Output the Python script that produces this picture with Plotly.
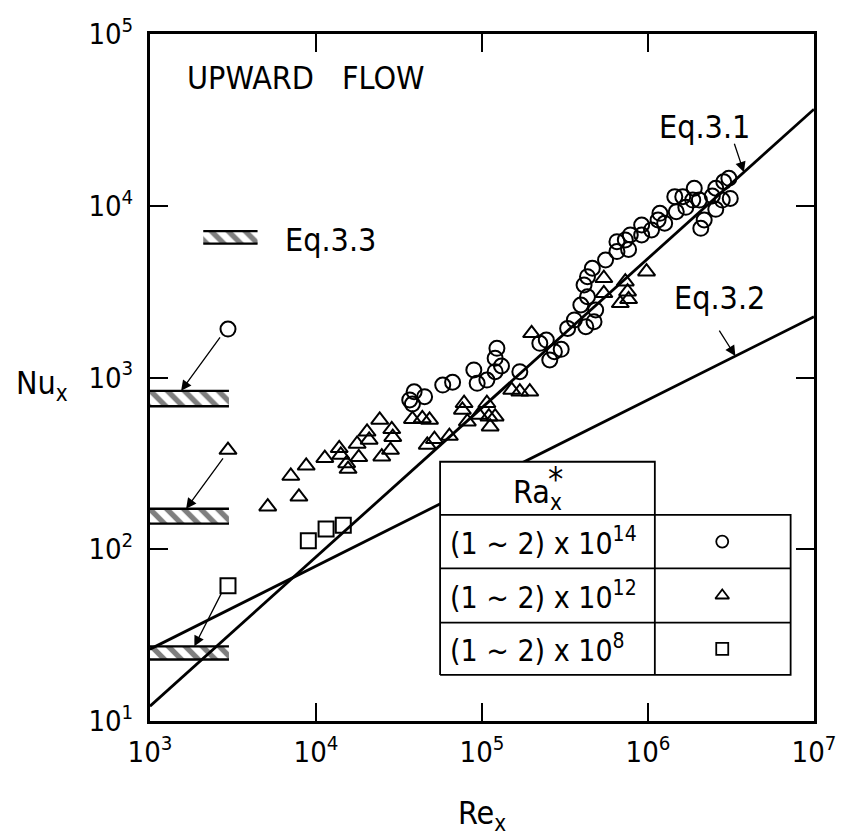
import math
import plotly.graph_objects as go

FONT = "Liberation Sans Narrow, DejaVu Sans Condensed, Arial Narrow, Liberation Sans, Arial, sans-serif"

# ---- measured data: Re_x vs Nu_x, grouped by Ra*_x ----
re_ra14 = [2.95e3,
           3.90e4, 3.67e4, 4.51e4, 3.81e4, 5.80e4, 6.65e4, 8.93e4, 9.35e4, 1.07e5, 1.20e5,
           1.23e5, 1.20e5, 1.31e5, 1.69e5, 2.23e5, 2.44e5, 2.56e5, 2.73e5, 3.00e5, 3.28e5,
           3.60e5, 3.94e5, 4.22e5, 4.32e5, 4.12e5, 4.32e5, 4.62e5, 4.84e5, 4.73e5, 5.55e5,
           6.50e5, 6.50e5, 7.30e5, 7.64e5, 7.82e5, 9.16e5, 9.16e5, 1.05e6, 1.15e6, 1.18e6,
           1.26e6, 1.45e6, 1.48e6, 1.62e6, 1.69e6, 1.86e6, 1.90e6, 2.04e6, 2.18e6, 2.08e6,
           2.44e6, 2.56e6, 2.56e6, 2.86e6, 3.07e6, 2.80e6, 3.13e6]
nu_ra14 = [1915,
           826, 740, 773, 701, 904, 938, 1107, 925, 966, 1081,
           1479, 1294, 1167, 1081, 1581, 1652, 1265, 1413, 1459, 1932,
           2163, 2644, 1977, 2953, 3460, 3865, 4325, 2472, 2113, 4831,
           6180, 5407, 6324, 5571, 6761, 7727, 6761, 7228, 8262, 9036,
           7907, 11300, 9230, 11300, 9790, 10790, 12640, 10790, 8262, 7390,
           11400, 12640, 9530, 13800, 14450, 10790, 11030]

re_ra12 = [2.95e3,
           5.12e3, 7.89e3, 7.05e3, 8.73e3, 1.13e4, 1.38e4, 1.41e4, 1.53e4, 1.56e4, 1.77e4,
           1.81e4, 2.03e4, 2.09e4, 2.42e4, 2.49e4, 2.81e4, 2.86e4, 2.90e4, 3.81e4, 4.37e4,
           4.68e4, 4.83e4, 5.17e4, 6.36e4, 7.80e4, 7.62e4, 8.16e4, 9.57e4, 1.07e5, 1.10e5,
           1.20e5, 1.12e5, 1.51e5, 1.69e5, 1.94e5, 1.99e5, 5.42e5, 5.42e5, 7.30e5, 7.53e5,
           6.81e5, 7.64e5, 9.80e5]
nu_ra12 = [378,
           177, 202, 267, 306, 339, 387, 354, 316, 293, 410,
           343, 483, 433, 566, 346, 378, 499, 449, 572, 578,
           405, 566, 437, 456, 708, 647, 553, 605, 708, 591,
           591, 517, 845, 826, 826, 1807, 3783, 3090, 3614, 3162,
           2704, 2851, 4130]

re_ra8 = [2.95e3, 8.99e3, 1.15e4, 1.46e4]
nu_ra8 = [61.4, 112, 131, 138]

# ---- correlations ----
eq31_re = [1e3, 1e7]
eq31_nu = [12.2, 36500]
eq32_re = [1e3, 1e7]
eq32_nu = [26.2, 2260]

# Eq.3.3 bands (laminar limit) for each Ra*_x group: 1e14, 1e12, 1e8
eq33_re = [1e3, 2.99e3]
eq33_nu_lo = [680, 141, 22.8]
eq33_nu_hi = [836, 172, 27.2]
# where the arrows from the Re = 3e3 points meet each band
eq33_arrow_re = [1540, 1650, 1850]

table_rows = ["(1 ~ 2) x 10<sup>14</sup>", "(1 ~ 2) x 10<sup>12</sup>", "(1 ~ 2) x 10<sup>8</sup>"]
row_symbols = ["circle-open", "triangle-up-open", "square-open"]

x_tickvals = [1e3, 1e4, 1e5, 1e6, 1e7]
x_ticktext = ["10<sup>3</sup>", "10<sup>4</sup>", "10<sup>5</sup>", "10<sup>6</sup>", "10<sup>7</sup>"]
y_tickvals = [1e1, 1e2, 1e3, 1e4, 1e5]
y_ticktext = ["10<sup>1</sup>", "10<sup>2</sup>", "10<sup>3</sup>", "10<sup>4</sup>", "10<sup>5</sup>"]

HATCH = dict(shape="\\", size=12, solidity=0.45, fgcolor="black", bgcolor="white")

fig = go.Figure()

# hatched Eq.3.3 bands
for lo, hi in zip(eq33_nu_lo, eq33_nu_hi):
    r0, r1 = eq33_re
    fig.add_trace(go.Scatter(x=[r0, r1, r1, r0, r0], y=[lo, lo, hi, hi, lo], mode="lines",
                             fill="toself", fillpattern=HATCH, fillcolor="white",
                             line=dict(width=0, color="rgba(0,0,0,0)"),
                             hoverinfo="skip", showlegend=False))
    fig.add_trace(go.Scatter(x=[r0, r1, None, r0, r1], y=[lo, lo, None, hi, hi], mode="lines",
                             line=dict(color="black", width=2.4), hoverinfo="skip", showlegend=False))

# correlation lines
for xs, ys in ((eq31_re, eq31_nu), (eq32_re, eq32_nu)):
    fig.add_trace(go.Scatter(x=xs, y=ys, mode="lines", line=dict(color="black", width=2.8),
                             hoverinfo="skip", showlegend=False))

# data points
for xs, ys, sym in ((re_ra14, nu_ra14, "circle-open"),
                    (re_ra12, nu_ra12, "triangle-up-open"),
                    (re_ra8, nu_ra8, "square-open")):
    fig.add_trace(go.Scatter(x=xs, y=ys, mode="markers",
                             marker=dict(symbol=sym, size=15, color="black", line=dict(width=2)),
                             showlegend=False))

# ---- overlay axes in 0..1 units for the key table and the Eq.3.3 swatch ----
tx0, tx1, tx2 = 0.4369, 0.7603, 0.9648
ty_top, ty_h, ty_r1, ty_r2, ty_bot = 0.3774, 0.2999, 0.2223, 0.1431, 0.0670

fig.add_trace(go.Scatter(x=[tx0, tx2, tx2, tx1, tx1, tx0, tx0],
                         y=[ty_bot, ty_bot, ty_h, ty_h, ty_top, ty_top, ty_bot],
                         mode="lines", fill="toself", fillcolor="white",
                         line=dict(color="black", width=1.8), xaxis="x2", yaxis="y2",
                         hoverinfo="skip", showlegend=False))
fig.add_trace(go.Scatter(x=[tx0, tx1, None, tx0, tx2, None, tx0, tx2, None, tx1, tx1],
                         y=[ty_h, ty_h, None, ty_r1, ty_r1, None, ty_r2, ty_r2, None, ty_h, ty_bot],
                         mode="lines", line=dict(color="black", width=1.8), xaxis="x2", yaxis="y2",
                         hoverinfo="skip", showlegend=False))
row_centers = [(ty_h + ty_r1) / 2, (ty_r1 + ty_r2) / 2, (ty_r2 + ty_bot) / 2]
sym_x = 0.8618
for yc, sym in zip(row_centers, row_symbols):
    fig.add_trace(go.Scatter(x=[sym_x], y=[yc], mode="markers",
                             marker=dict(symbol=sym, size=12, color="black", line=dict(width=1.8)),
                             xaxis="x2", yaxis="y2", hoverinfo="skip", showlegend=False))

# Eq.3.3 swatch
sx0, sx1, sy0, sy1 = 0.0802, 0.162, 0.695, 0.713
fig.add_trace(go.Scatter(x=[sx0, sx1, sx1, sx0, sx0], y=[sy0, sy0, sy1, sy1, sy0], mode="lines",
                         fill="toself", fillpattern=HATCH, fillcolor="white",
                         line=dict(width=0, color="rgba(0,0,0,0)"), xaxis="x2", yaxis="y2",
                         hoverinfo="skip", showlegend=False))
fig.add_trace(go.Scatter(x=[sx0, sx1, None, sx0, sx1], y=[sy0, sy0, None, sy1, sy1], mode="lines",
                         line=dict(color="black", width=2.2), xaxis="x2", yaxis="y2",
                         hoverinfo="skip", showlegend=False))

ann = []


def text(s, x, y, size=32, xanchor="center", yanchor="middle"):
    ann.append(dict(text=s, x=x, y=y, xref="paper", yref="paper", showarrow=False,
                    xanchor=xanchor, yanchor=yanchor, font=dict(family=FONT, size=size, color="black")))


text("UPWARD", 0.052, 0.936, xanchor="left")
text("FLOW", 0.2868, 0.936, xanchor="left")
text("Eq.3.3", 0.2006, 0.700, xanchor="left")
text("Eq.3.2", 0.857, 0.6157)
text("Eq.3.1", 0.835, 0.8646)
text("Nu<sub>x</sub>", -0.163, 0.489)
text("Re<sub>x</sub>", 0.4993, -0.137)
text("Ra<sub>x</sub>", 0.584, 0.330)
text("*", 0.611, 0.352, size=34)
for yc, lbl in zip(row_centers, table_rows):
    text(lbl, 0.4487, yc, size=30, xanchor="left")

ARROW = dict(showarrow=True, arrowhead=2, arrowsize=1.6, arrowwidth=1.3, arrowcolor="black",
             axref="pixel", ayref="pixel", text="")
# arrows from the Re = 3e3 points down to their Eq.3.3 band
for r_tip, hi, (ax, ay) in zip(eq33_arrow_re, eq33_nu_hi, [(40, -55), (38, -52), (28, -55)]):
    ann.append(dict(x=math.log10(r_tip), y=math.log10(hi), xref="x", yref="y", ax=ax, ay=ay, **ARROW))


def on_line(re_pts, nu_pts, re):
    lx0, lx1 = math.log10(re_pts[0]), math.log10(re_pts[1])
    ly0, ly1 = math.log10(nu_pts[0]), math.log10(nu_pts[1])
    lx = math.log10(re)
    return lx, ly0 + (ly1 - ly0) * (lx - lx0) / (lx1 - lx0)


lx, ly = on_line(eq31_re, eq31_nu, 3.78e6)
ann.append(dict(x=lx, y=ly, xref="x", yref="y", ax=-10, ay=-30, **ARROW))
lx, ly = on_line(eq32_re, eq32_nu, 3.36e6)
ann.append(dict(x=lx, y=ly, xref="x", yref="y", ax=-17, ay=-27, **ARROW))

axis_common = dict(showline=True, linewidth=3, linecolor="black", mirror="ticks", ticks="inside",
                   ticklen=18, tickwidth=1.6, tickcolor="black", showgrid=False, zeroline=False,
                   tickfont=dict(family=FONT, size=29, color="black"))

fig.update_layout(
    width=848, height=836, autosize=False,
    margin=dict(l=150, r=25, t=34, b=115),
    paper_bgcolor="white", plot_bgcolor="white",
    xaxis=dict(type="log", range=[3, 7], tickvals=x_tickvals, ticktext=x_ticktext,
               ticklabelstandoff=3, **axis_common),
    yaxis=dict(type="log", range=[1, 5], tickvals=y_tickvals, ticktext=y_ticktext,
               ticklabelstandoff=8, **axis_common),
    xaxis2=dict(overlaying="x", range=[0, 1], visible=False, anchor="y2"),
    yaxis2=dict(overlaying="y", range=[0, 1], visible=False, anchor="x2"),
    annotations=ann,
    showlegend=False,
)

fig.write_html("out.html")
